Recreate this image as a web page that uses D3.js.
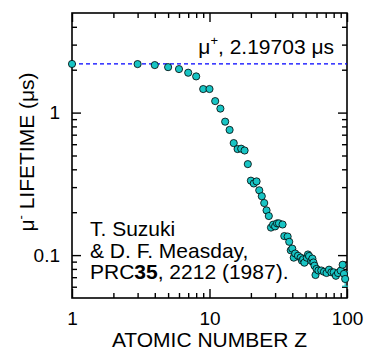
<!DOCTYPE html>
<html lang="en">
<head>
    <meta charset="UTF-8">
    <title>Muon lifetime vs Z</title>
    <script src="https://d3js.org/d3.v7.min.js"></script>
    <style>
        body { margin: 0; background: #fff; }
        text { font-family: "Liberation Sans", Arial, sans-serif; fill: #000; }
        .tick text { font-size: 19px; }
    </style>
</head>
<body>
    <svg width="368" height="352"></svg>
    <script>
        // atomic number and measured negative muon lifetime (us)
        const atomicZ = [1, 3, 4, 5, 6, 7, 8, 9, 10, 11, 12, 13, 14, 15, 16, 17, 18, 19, 20,
            21, 22, 23, 24, 25, 26, 27, 28, 29, 30, 31, 32, 34, 35, 37, 38, 39, 40, 41, 42,
            44, 46, 47, 48, 49, 51, 52, 53, 55, 56, 57, 58, 59, 60, 62, 65, 68, 71, 74, 77,
            80, 83, 86, 90, 93, 95, 97];
        const lifetime = [2.195, 2.19, 2.155, 2.085, 2.02, 1.905, 1.795, 1.463, 1.464, 1.204, 1.067,
            0.864, 0.756, 0.611, 0.555, 0.558, 0.542, 0.435, 0.333,
            0.318, 0.329, 0.285, 0.259, 0.232, 0.206, 0.188, 0.156, 0.1635, 0.159, 0.167, 0.167,
            0.164, 0.136, 0.135, 0.124, 0.108, 0.111, 0.096, 0.1026,
            0.099, 0.096, 0.0915, 0.0936, 0.0885, 0.096, 0.101, 0.0985, 0.091, 0.0945, 0.0888,
            0.0843, 0.0725, 0.080, 0.078, 0.078, 0.0764, 0.0749, 0.079, 0.0757,
            0.0757, 0.0716, 0.0749, 0.0778, 0.0856, 0.0738, 0.068];
        // one point carries a visible error bar
        const errZ = [97];
        const errLow = [0.0605];
        const errHigh = [0.0765];

        const muPlusLifetime = 2.19703;

        const xMajor = [1, 10, 100];
        const xTickLabels = ["1", "10", "100"];
        const xMinor = [2, 3, 4, 5, 6, 7, 8, 9, 20, 30, 40, 50, 60, 70, 80, 90];
        const yMajor = [0.1, 1];
        const yTickLabels = ["0.1", "1"];
        const yMinor = [0.06, 0.07, 0.08, 0.09, 0.2, 0.3, 0.4, 0.5, 0.6, 0.7, 0.8, 0.9, 2, 3, 4];

        const svg = d3.select("svg");
        const pLeft = 72, pRight = 347, pTop = 13, pBottom = 298;

        const x = d3.scaleLog().domain([1, 100]).range([pLeft, pRight]);
        const y = d3.scaleLog().domain([0.05, 5]).range([pBottom, pTop]);

        function addAxis(gen, tr) {
            const g = svg.append("g").attr("transform", tr).call(gen);
            g.select(".domain").remove();
            g.selectAll("line").attr("stroke", "#000").attr("stroke-width", 1.4);
            return g;
        }
        const noLabel = () => "";

        // bottom / top
        addAxis(d3.axisBottom(x).tickValues(xMajor).tickSize(-9).tickPadding(14)
            .tickFormat((d, i) => xTickLabels[i]), `translate(0,${pBottom})`);
        addAxis(d3.axisBottom(x).tickValues(xMinor).tickSize(-5).tickFormat(noLabel), `translate(0,${pBottom})`);
        addAxis(d3.axisTop(x).tickValues(xMajor).tickSize(-9).tickFormat(noLabel), `translate(0,${pTop})`);
        addAxis(d3.axisTop(x).tickValues(xMinor).tickSize(-5).tickFormat(noLabel), `translate(0,${pTop})`);
        // left / right
        addAxis(d3.axisLeft(y).tickValues(yMajor).tickSize(-9).tickPadding(12)
            .tickFormat((d, i) => yTickLabels[i]), `translate(${pLeft},0)`);
        addAxis(d3.axisLeft(y).tickValues(yMinor).tickSize(-5).tickFormat(noLabel), `translate(${pLeft},0)`);
        addAxis(d3.axisRight(y).tickValues(yMajor).tickSize(-9).tickFormat(noLabel), `translate(${pRight},0)`);
        addAxis(d3.axisRight(y).tickValues(yMinor).tickSize(-5).tickFormat(noLabel), `translate(${pRight},0)`);

        svg.selectAll(".tick text").attr("fill", "#000").style("font-family", "'Liberation Sans', Arial, sans-serif");

        // frame
        svg.append("rect")
            .attr("x", pLeft).attr("y", pTop)
            .attr("width", pRight - pLeft).attr("height", pBottom - pTop)
            .attr("fill", "none").attr("stroke", "#000").attr("stroke-width", 1.6);

        // mu+ reference line
        svg.append("line")
            .attr("x1", pLeft).attr("x2", pRight)
            .attr("y1", y(muPlusLifetime)).attr("y2", y(muPlusLifetime))
            .attr("stroke", "#0000ff").attr("stroke-width", 1.2)
            .attr("stroke-dasharray", "4,3");

        // error bars
        const eb = svg.append("g").attr("stroke", "#18c4c4").attr("stroke-width", 1.2);
        errZ.forEach((z, i) => {
            eb.append("line").attr("x1", x(z)).attr("x2", x(z)).attr("y1", y(errLow[i])).attr("y2", y(errHigh[i]));
            eb.append("line").attr("x1", x(z) - 3).attr("x2", x(z) + 3).attr("y1", y(errLow[i])).attr("y2", y(errLow[i]));
            eb.append("line").attr("x1", x(z) - 3).attr("x2", x(z) + 3).attr("y1", y(errHigh[i])).attr("y2", y(errHigh[i]));
        });

        // points
        svg.append("g").selectAll("circle")
            .data(atomicZ)
            .enter().append("circle")
            .attr("cx", d => x(d))
            .attr("cy", (d, i) => y(lifetime[i]))
            .attr("r", 3.6)
            .attr("fill", "#18c4c4")
            .attr("stroke", "#000")
            .attr("stroke-width", 0.8);

        // mu+ label
        const lab = svg.append("text")
            .attr("x", 334).attr("y", 54)
            .attr("text-anchor", "end")
            .style("font-size", "21px");
        lab.append("tspan").text("\u03bc");
        lab.append("tspan").attr("dy", -9).style("font-size", "13px").text("+");
        lab.append("tspan").attr("dy", 9).text(", 2.19703 \u03bcs");

        // reference text
        const ref = svg.append("g").style("font-size", "21px");
        ref.append("text").attr("x", 90).attr("y", 236).text("T. Suzuki");
        ref.append("text").attr("x", 90).attr("y", 257.5).text("& D. F. Measday,");
        const r3 = ref.append("text").attr("x", 90).attr("y", 279);
        r3.append("tspan").text("PRC");
        r3.append("tspan").style("font-weight", "bold").text("35");
        r3.append("tspan").text(", 2212 (1987).");

        // axis titles
        svg.append("text")
            .attr("x", (pLeft + pRight) / 2).attr("y", 347)
            .attr("text-anchor", "middle")
            .style("font-size", "21px")
            .text("ATOMIC NUMBER Z");

        const yt = svg.append("text")
            .attr("transform", "translate(34,152) rotate(-90)")
            .attr("text-anchor", "middle")
            .style("font-size", "21px");
        yt.append("tspan").text("\u03bc");
        yt.append("tspan").attr("dy", -9).style("font-size", "13px").text("-");
        yt.append("tspan").attr("dy", 9).text(" LIFETIME (\u03bcs)");
    </script>
</body>
</html>
